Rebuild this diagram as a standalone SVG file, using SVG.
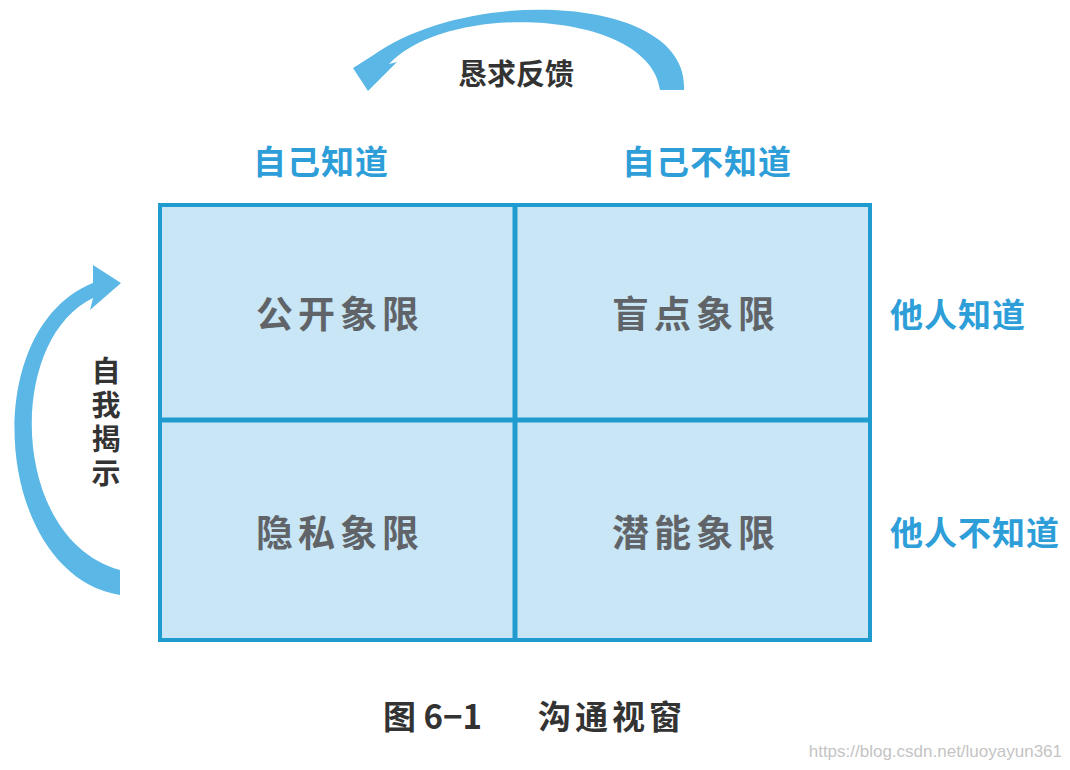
<svg xmlns="http://www.w3.org/2000/svg" width="1070" height="770" viewBox="0 0 1070 770">
<style>
.lbl{font-family:"Noto Sans CJK SC","Noto Sans",sans-serif;font-weight:bold;font-size:33px;fill:#2d9ed8}
.q{font-family:"Noto Sans CJK SC","Noto Sans",sans-serif;font-weight:bold;font-size:37px;fill:#606468;letter-spacing:5px}
.dark{font-family:"Noto Sans CJK SC","Noto Sans",sans-serif;font-weight:bold;fill:#333}
.cell{fill:#c8e6f6;stroke:#1f9bd0;stroke-width:4}
.arr{fill:#5bb7e5}
</style>
<rect width="1070" height="770" fill="#fff"/>
<g id="connectors">
<path class="arr" d="M684 90 C690 -5 470 -15 372 56 L353 68 L368 91 L397 62 L389 64 C450 0 650 10 660 90 Z"/>
<path class="arr" d="M120 595 C-5 575 -25 330 93 283 L93 265 L121 283 L90 310 L93 298 C5 340 10 540 120 570 Z"/>
</g>
<g id="quad-open"><rect class="cell" x="160" y="205" width="355" height="215"/><text class="q" x="340" y="328" text-anchor="middle">公开象限</text></g>
<g id="quad-blind"><rect class="cell" x="515" y="205" width="355" height="215"/><text class="q" x="696" y="328" text-anchor="middle">盲点象限</text></g>
<g id="quad-hidden"><rect class="cell" x="160" y="420" width="355" height="220"/><text class="q" x="340" y="547" text-anchor="middle">隐私象限</text></g>
<g id="quad-unknown"><rect class="cell" x="515" y="420" width="355" height="220"/><text class="q" x="696" y="547" text-anchor="middle">潜能象限</text></g>
<line x1="515" y1="205" x2="515" y2="640" stroke="#1f9bd0" stroke-width="5"/>
<line x1="160" y1="420" x2="870" y2="420" stroke="#1f9bd0" stroke-width="5"/>
<g id="labels">
<text class="lbl" x="321" y="174" text-anchor="middle" letter-spacing="1">自己知道</text>
<text class="lbl" x="707" y="174" text-anchor="middle" letter-spacing="1">自己不知道</text>
<text class="lbl" x="890" y="327" letter-spacing="1">他人知道</text>
<text class="lbl" x="890" y="545" letter-spacing="1">他人不知道</text>
<text class="dark" x="516" y="85" font-size="29" text-anchor="middle">恳求反馈</text>
<text class="dark" x="106" y="356" font-size="29" writing-mode="vertical-rl" letter-spacing="5">自我揭示</text>
<text class="dark" x="383" y="729" font-size="33">图 6−1</text>
<text class="dark" x="538" y="729" font-size="33" letter-spacing="4">沟通视窗</text>
<text x="1062" y="757" font-family="Liberation Sans, sans-serif" font-size="17" fill="#c4c4c4" text-anchor="end">https://blog.csdn.net/luoyayun361</text>
</g>
</svg>
